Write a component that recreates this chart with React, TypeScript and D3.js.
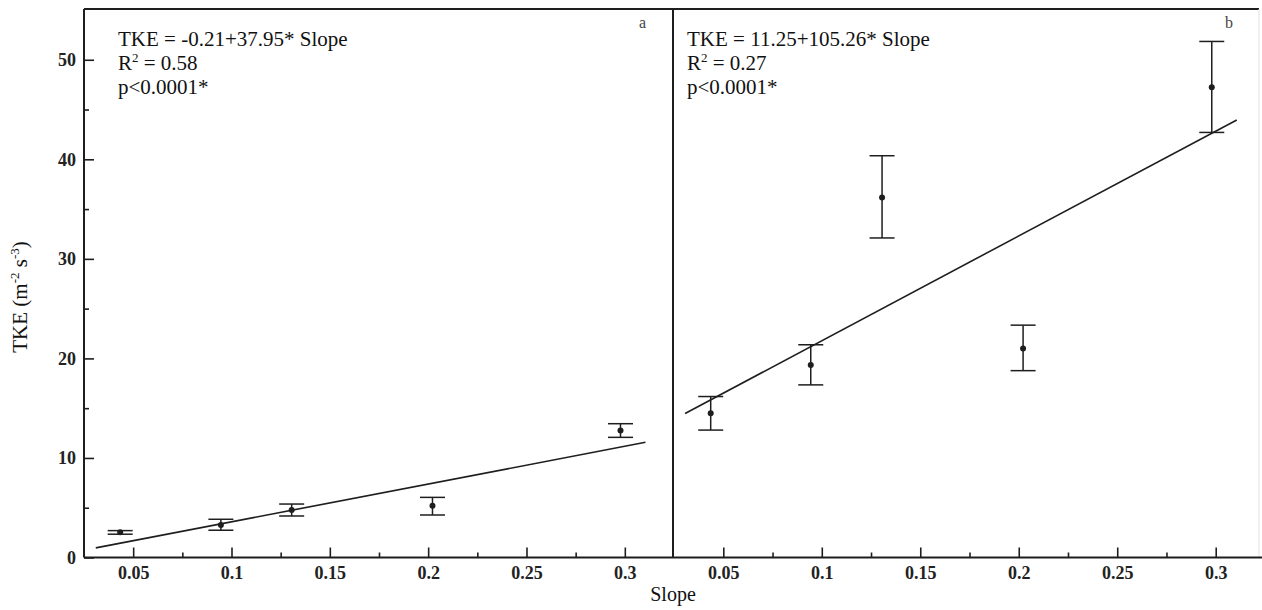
import React, { useEffect, useRef } from "react";
import * as d3 from "d3";

// panel a
const slopeA = [0.0434, 0.0946, 0.1306, 0.2022, 0.2978];
const tkeA = [2.54, 3.27, 4.77, 5.2, 12.77];
const upperA = [2.7, 3.84, 5.37, 6.04, 13.44];
const lowerA = [2.34, 2.74, 4.17, 4.27, 12.07];
const fitA = { a: -0.21, b: 37.95, from: 0.031, to: 0.3105 };

// panel b
const slopeB = [0.0436, 0.0944, 0.1306, 0.2022, 0.298];
const tkeB = [14.5, 19.34, 36.17, 21.0, 47.24];
const upperB = [16.17, 21.37, 40.36, 23.34, 51.84];
const lowerB = [12.8, 17.34, 32.1, 18.77, 42.7];
const fitB = { a: 11.25, b: 105.26, from: 0.0306, to: 0.3107 };

const xMajor = [0.05, 0.1, 0.15, 0.2, 0.25, 0.3];
const xMinor = [0.075, 0.125, 0.175, 0.225, 0.275];
const yMajor = [0, 10, 20, 30, 40, 50];
const yMinor = [5, 15, 25, 35, 45];

const textA = ["TKE = -0.21+37.95* Slope", "0.58", "p<0.0001*"];
const textB = ["TKE = 11.25+105.26* Slope", "0.27", "p<0.0001*"];

const W = 1262;
const H = 610;
const LEFT = 84;
const MID = 673;
const RIGHT = 1259;
const TOP = 9;
const BOTTOM = 557.5;
const INK = "#1e1e1e";
const SERIF = "'Liberation Serif', 'Times New Roman', serif";

const xA = d3.scaleLinear().domain([0.025, 0.3245]).range([LEFT, MID]);
const xB = d3.scaleLinear().domain([0.02446, 0.32198]).range([MID, RIGHT]);
const y = d3.scaleLinear().domain([0, 55.1]).range([BOTTOM, TOP]);

function Panel({ x, slope, tke, upper, lower, fit, text, tag, textX }) {
  const line = d3
    .line<number>()
    .x((d) => x(d))
    .y((d) => y(fit.a + fit.b * d));
  const x1 = x.range()[1];
  return (
    <g>
      <path d={line([fit.from, fit.to]) || ""} fill="none" stroke={INK} strokeWidth={1.6} />
      {slope.map((s, i) => (
        <g key={i} stroke={INK} strokeWidth={1.5}>
          <line x1={x(s)} x2={x(s)} y1={y(upper[i])} y2={y(lower[i])} />
          <line x1={x(s) - 12.5} x2={x(s) + 12.5} y1={y(upper[i])} y2={y(upper[i])} />
          <line x1={x(s) - 12.5} x2={x(s) + 12.5} y1={y(lower[i])} y2={y(lower[i])} />
          <circle cx={x(s)} cy={y(tke[i])} r={3} fill={INK} stroke="none" />
        </g>
      ))}
      <g fontFamily={SERIF} fontSize={21} fill="#111">
        <text x={textX} y={46}>{text[0]}</text>
        <text x={textX} y={70}>
          R<tspan fontSize={13} dy={-8}>2</tspan>
          <tspan dy={8}> = {text[1]}</tspan>
        </text>
        <text x={textX} y={93.5}>{text[2]}</text>
      </g>
      <text x={x1 - 34} y={28} fontFamily={SERIF} fontSize={16} fill="#444">
        {tag}
      </text>
    </g>
  );
}

export default function App() {
  const axRef = useRef<SVGGElement>(null);

  useEffect(() => {
    const g = d3.select(axRef.current);
    g.selectAll("*").remove();

    const fmt = (d: number) => String(d);
    [xA, xB].forEach((sc) => {
      g.append("g")
        .attr("transform", `translate(0,${BOTTOM})`)
        .call(d3.axisBottom(sc).tickValues(xMajor).tickSize(-10).tickPadding(9).tickFormat(fmt as any));
      g.append("g")
        .attr("transform", `translate(0,${BOTTOM})`)
        .call(d3.axisBottom(sc).tickValues(xMinor).tickSize(-5).tickFormat(() => ""));
    });
    g.append("g")
      .attr("transform", `translate(${LEFT},0)`)
      .call(d3.axisLeft(y).tickValues(yMajor).tickSize(-10).tickPadding(8).tickFormat(fmt as any));
    g.append("g")
      .attr("transform", `translate(${LEFT},0)`)
      .call(d3.axisLeft(y).tickValues(yMinor).tickSize(-5).tickFormat(() => ""));

    g.selectAll(".domain").remove();
    g.selectAll(".tick line").attr("stroke", INK).attr("stroke-width", 1.6);
    g.selectAll(".tick text")
      .attr("font-family", SERIF)
      .attr("font-weight", "bold")
      .attr("font-size", 18)
      .attr("fill", "#222");
  }, []);

  return (
    <svg width={W} height={H} style={{ position: "absolute", left: 0, top: 0, background: "#fff" }}>
      <line x1={LEFT} x2={RIGHT} y1={TOP} y2={TOP} stroke={INK} strokeWidth={2} />
      <line x1={RIGHT} x2={RIGHT} y1={TOP} y2={BOTTOM} stroke="#e2e2e2" strokeWidth={1} />
      <line x1={LEFT} x2={LEFT} y1={TOP} y2={BOTTOM} stroke={INK} strokeWidth={2} />
      <line x1={MID} x2={MID} y1={TOP} y2={BOTTOM} stroke={INK} strokeWidth={2} />
      <line x1={LEFT} x2={W} y1={BOTTOM} y2={BOTTOM} stroke={INK} strokeWidth={2} />
      <g ref={axRef} />
      <Panel x={xA} slope={slopeA} tke={tkeA} upper={upperA} lower={lowerA} fit={fitA} text={textA} tag="a" textX={118} />
      <Panel x={xB} slope={slopeB} tke={tkeB} upper={upperB} lower={lowerB} fit={fitB} text={textB} tag="b" textX={687} />
      <text x={MID} y={601} textAnchor="middle" fontFamily={SERIF} fontSize={20} fill="#111">
        Slope
      </text>
      <text
        transform="translate(27,297) rotate(-90)"
        textAnchor="middle"
        fontFamily={SERIF}
        fontSize={21}
        fill="#111"
      >
        TKE (m<tspan fontSize={13} dy={-8}>-2</tspan>
        <tspan dy={8}> s</tspan>
        <tspan fontSize={13} dy={-8}>-3</tspan>
        <tspan dy={8}>)</tspan>
      </text>
    </svg>
  );
}
